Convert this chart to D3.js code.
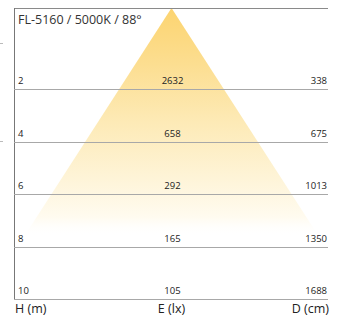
<!DOCTYPE html>
<html><head><meta charset="utf-8">
<script src="https://cdn.jsdelivr.net/npm/d3@7"></script>
<style>html,body{margin:0;padding:0;background:#fff;}svg{display:block;}</style>
</head><body>
<script>
const title = "FL-5160 / 5000K / 88°";
const heights = [2, 4, 6, 8, 10];            // H (m)
const illuminance = [2632, 658, 292, 165, 105]; // E (lx)
const diameters = [338, 675, 1013, 1350, 1688]; // D (cm)
const axisLabels = ["H (m)", "E (lx)", "D (cm)"];

(function () {
const W = 342, Hh = 318;
const mLeft = 14, mRight = 328, mTop = 8;
const font = "'Open Sans', sans-serif";
const svg = d3.select("body").append("svg").attr("width", W).attr("height", Hh);

const y = d3.scaleLinear().domain([2, 10]).range([89, 299]);
const x = d3.scalePoint().domain(["H", "E", "D"]).range([mLeft + 4, mRight - 1]);
const cx = (mLeft + mRight) / 2 + 0.5;

const defs = svg.append("defs");
const g = defs.append("linearGradient").attr("id", "beam").attr("x1", 0).attr("y1", 0).attr("x2", 0).attr("y2", 1);
[[0, "rgb(252,212,112)", 1], [0.25, "rgb(252,222,145)", 1], [0.5, "rgb(253,234,182)", 1], [0.75, "rgb(254,244,216)", 1], [0.92, "rgb(255,251,240)", 1], [1, "rgb(255,255,255)", 0]]
  .forEach(s => g.append("stop").attr("offset", s[0]).attr("stop-color", s[1]).attr("stop-opacity", s[2]));

const slope = 0.645;
const baseY = y(7.6);
const halfW = (baseY - mTop) * slope;
svg.append("path")
  .attr("d", d3.line()([[cx, mTop], [cx + halfW, baseY], [cx - halfW, baseY]]) + "Z")
  .attr("fill", "url(#beam)");

svg.append("line").attr("x1", mLeft).attr("x2", mRight).attr("y1", mTop + 0.5).attr("y2", mTop + 0.5).attr("stroke", "#8a8a8a");
svg.append("line").attr("x1", mLeft + 0.5).attr("x2", mLeft + 0.5).attr("y1", mTop).attr("y2", y(10) + 1).attr("stroke", "#777");

[43, 141].forEach(v => svg.append("line").attr("x1", 0).attr("x2", 3).attr("y1", v + 0.5).attr("y2", v + 0.5).attr("stroke", "#bbb"));

heights.forEach((h, i) => {
  const yy = Math.round(y(h));
  svg.append("line").attr("x1", mLeft).attr("x2", mRight).attr("y1", yy + 0.5).attr("y2", yy + 0.5).attr("stroke", "#a8a8a8");
  const t = (txt, col, anchor) => svg.append("text").attr("x", x(col)).attr("y", yy - 5)
    .attr("text-anchor", anchor).attr("font-family", font).attr("font-size", 9.5).attr("fill", "#222").text(txt);
  t(h, "H", "start");
  t(illuminance[i], "E", "middle");
  t(diameters[i], "D", "end");
});

svg.append("text").attr("x", mLeft + 4).attr("y", 24).attr("font-family", font).attr("font-size", 12.5).attr("fill", "#333").text(title);

const bx = [mLeft + 1, cx, mRight + 1];
const anchors = ["start", "middle", "end"];
axisLabels.forEach((l, i) => svg.append("text").attr("x", bx[i]).attr("y", 313).attr("text-anchor", anchors[i])
  .attr("font-family", font).attr("font-size", 12.5).attr("fill", "#222").text(l));
})();
</script>
</body></html>
